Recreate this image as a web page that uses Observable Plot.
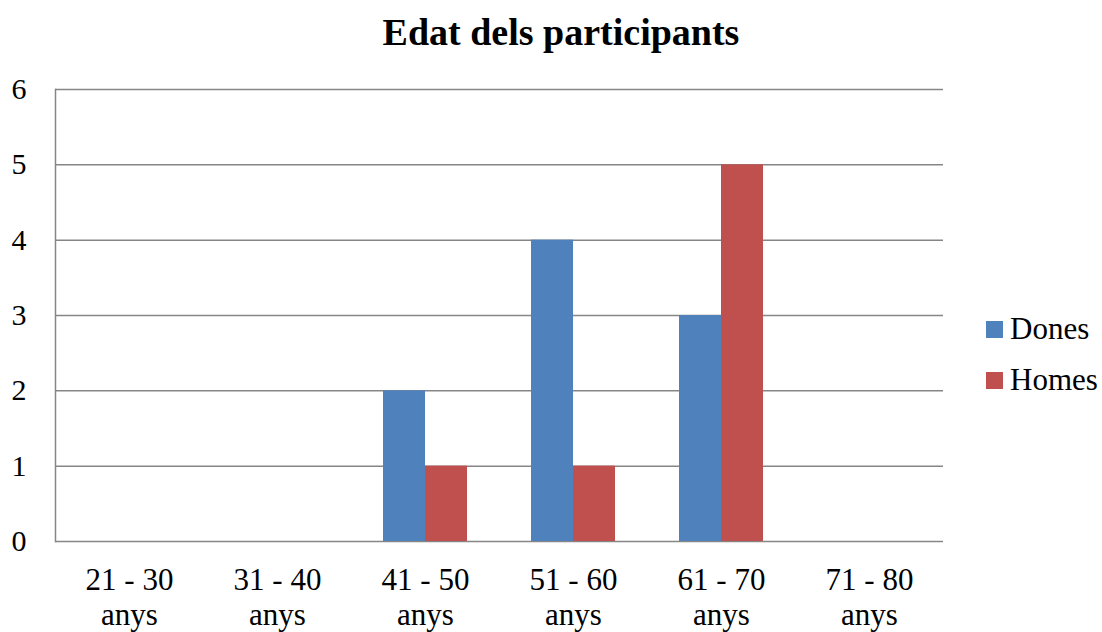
<!DOCTYPE html>
<html>
<head>
<meta charset="utf-8">
<script src="https://cdn.jsdelivr.net/npm/d3@7"></script>
<script src="https://cdn.jsdelivr.net/npm/@observablehq/plot@0.6"></script>
<style>
  html, body { margin: 0; padding: 0; background: #fff; }
  #wrap { position: relative; width: 1102px; height: 632px; font-family: "Liberation Serif", "Times New Roman", serif; }
  #title { position: absolute; left: 261px; width: 600px; top: 13px; text-align: center; font-size: 38px; line-height: 1; font-weight: bold; color: #000; }
  .lg-sw { position: absolute; width: 17px; height: 17px; }
  .lg-tx { position: absolute; font-size: 31px; line-height: 1; color: #000; }
  #chart { position: absolute; left: 0; top: 0; }
</style>
</head>
<body>
<div id="wrap">
  <div id="chart"></div>
  <div id="title"></div>
  <div id="legend"></div>
</div>
<script>
const title = "Edat dels participants";
const ageGroups = ["21 - 30", "31 - 40", "41 - 50", "51 - 60", "61 - 70", "71 - 80"];
const ageUnit = "anys";
const seriesNames = ["Dones", "Homes"];
const dones = [0, 0, 2, 4, 3, 0];
const homes = [0, 0, 1, 1, 5, 0];
const seriesColors = ["#4F81BD", "#C0504D"];
const yTicks = [0, 1, 2, 3, 4, 5, 6];

const data = [];
ageGroups.forEach((g, i) => {
  data.push({age: g, sex: seriesNames[0], value: dones[i]});
  data.push({age: g, sex: seriesNames[1], value: homes[i]});
});

const chart = Plot.plot({
  width: 1102,
  height: 632,
  marginLeft: 55,
  marginRight: 159,
  marginTop: 89,
  marginBottom: 91,
  style: {fontFamily: "'Liberation Serif', 'Times New Roman', serif", fontSize: "31px", color: "#000", background: "#fff", overflow: "visible"},
  fx: {domain: ageGroups, padding: 0, label: null},
  x: {domain: seriesNames, paddingInner: 0, paddingOuter: 0.741, axis: null},
  y: {domain: [0, 6], label: null},
  color: {domain: seriesNames, range: seriesColors},
  marks: [
    Plot.gridY(yTicks, {stroke: "#868686", strokeOpacity: 1, strokeWidth: 1.5}),
    Plot.frame({anchor: "left", stroke: "#868686", strokeWidth: 1.5, facet: "super"}),
    Plot.barY(data, {fx: "age", x: "sex", y: "value", fill: "sex"}),
    Plot.axisY(yTicks, {tickSize: 0, tickPadding: 29, label: null, fontSize: 30, tickFormat: d => String(d)}),
    Plot.axisFx({anchor: "bottom", tickSize: 0, tickPadding: 24, label: null, fontSize: 31, lineHeight: 1.12, tickFormat: d => `${d}\n${ageUnit}`})
  ]
});
document.getElementById("chart").appendChild(chart);
document.getElementById("title").textContent = title;

const legend = document.getElementById("legend");
seriesNames.forEach((name, i) => {
  const top = 321 + i * 51;
  const sw = document.createElement("div");
  sw.className = "lg-sw";
  sw.style.left = "986px";
  sw.style.top = top + "px";
  sw.style.background = seriesColors[i];
  legend.appendChild(sw);
  const tx = document.createElement("div");
  tx.className = "lg-tx";
  tx.style.left = "1010px";
  tx.style.top = (top - 8) + "px";
  tx.textContent = name;
  legend.appendChild(tx);
});
</script>
</body>
</html>
